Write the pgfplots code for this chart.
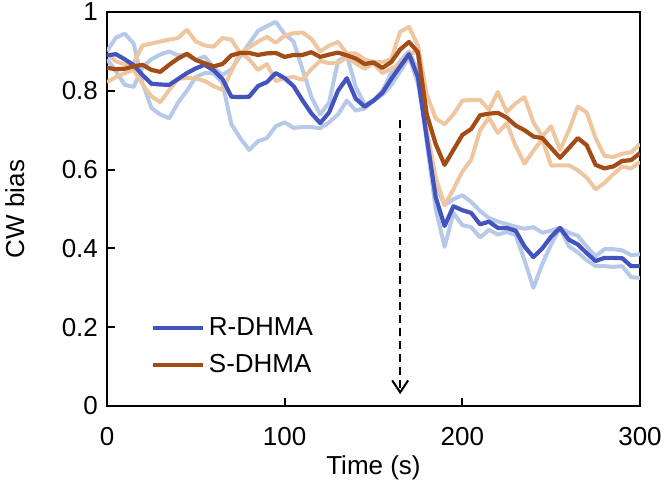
\documentclass[border=0pt]{standalone}
\usepackage{fontspec}
\setmainfont{Liberation Sans}
\usepackage{pgfplots}
\usepackage{pgfplotstable}
\pgfplotsset{compat=1.18}
\usetikzlibrary{arrows.meta}
\definecolor{rdark}{RGB}{68,84,190}
\definecolor{rlight}{RGB}{182,201,233}
\definecolor{sdark}{RGB}{163,76,22}
\definecolor{slight}{RGB}{238,198,160}

\pgfplotstableread{
t rm r1 r2
0 0.890 0.900 0.880
5 0.893 0.935 0.850
10 0.880 0.945 0.815
15 0.865 0.920 0.810
20 0.840 0.820 0.860
25 0.818 0.756 0.880
30 0.816 0.740 0.892
35 0.815 0.730 0.900
40 0.830 0.770 0.890
45 0.845 0.800 0.890
50 0.857 0.835 0.879
55 0.866 0.845 0.887
60 0.852 0.845 0.859
65 0.830 0.820 0.840
70 0.785 0.715 0.855
75 0.784 0.680 0.888
80 0.785 0.650 0.920
85 0.812 0.672 0.952
90 0.822 0.680 0.964
95 0.845 0.710 0.975
100 0.832 0.720 0.944
105 0.812 0.706 0.925
110 0.776 0.708 0.855
115 0.743 0.708 0.785
120 0.718 0.705 0.740
125 0.745 0.720 0.770
130 0.800 0.740 0.875
135 0.832 0.775 0.890
140 0.780 0.750 0.810
145 0.760 0.755 0.765
150 0.775 0.775 0.775
155 0.795 0.800 0.790
160 0.830 0.845 0.815
165 0.862 0.875 0.849
170 0.893 0.900 0.886
175 0.835 0.850 0.820
180 0.680 0.670 0.690
185 0.530 0.500 0.560
190 0.457 0.404 0.510
195 0.507 0.490 0.525
200 0.497 0.459 0.535
205 0.490 0.454 0.518
210 0.461 0.428 0.495
215 0.468 0.447 0.477
220 0.452 0.435 0.468
225 0.452 0.442 0.462
230 0.445 0.434 0.455
235 0.405 0.370 0.450
240 0.378 0.300 0.454
245 0.400 0.360 0.440
250 0.430 0.410 0.445
255 0.452 0.452 0.452
260 0.422 0.405 0.440
265 0.410 0.390 0.432
270 0.388 0.370 0.405
275 0.368 0.355 0.380
280 0.376 0.355 0.398
285 0.376 0.353 0.398
290 0.375 0.355 0.395
295 0.355 0.327 0.383
300 0.355 0.325 0.385
}\Rdata

\pgfplotstableread{
t sm s1 s2
0 0.858 0.894 0.822
5 0.855 0.875 0.835
10 0.856 0.867 0.845
15 0.862 0.871 0.853
20 0.866 0.915 0.817
25 0.853 0.920 0.786
30 0.848 0.925 0.771
35 0.866 0.930 0.802
40 0.882 0.934 0.830
45 0.894 0.955 0.833
50 0.878 0.925 0.831
55 0.870 0.915 0.825
60 0.862 0.912 0.812
65 0.868 0.934 0.802
70 0.890 0.930 0.850
75 0.896 0.895 0.897
80 0.896 0.910 0.880
85 0.891 0.925 0.853
90 0.895 0.937 0.868
95 0.896 0.922 0.825
100 0.886 0.940 0.832
105 0.891 0.946 0.835
110 0.891 0.948 0.828
115 0.898 0.932 0.855
120 0.886 0.900 0.876
125 0.892 0.915 0.870
130 0.897 0.924 0.870
135 0.890 0.895 0.885
140 0.882 0.895 0.870
145 0.868 0.880 0.856
150 0.872 0.873 0.870
155 0.858 0.873 0.845
160 0.873 0.880 0.856
165 0.905 0.950 0.870
170 0.924 0.962 0.896
175 0.898 0.915 0.896
180 0.740 0.790 0.700
185 0.665 0.730 0.580
190 0.612 0.715 0.510
195 0.650 0.740 0.550
200 0.688 0.775 0.595
205 0.703 0.777 0.625
210 0.738 0.777 0.700
215 0.742 0.752 0.732
220 0.744 0.797 0.693
225 0.732 0.746 0.718
230 0.712 0.768 0.660
235 0.700 0.784 0.615
240 0.684 0.720 0.648
245 0.680 0.684 0.677
250 0.655 0.710 0.610
255 0.630 0.650 0.611
260 0.655 0.700 0.611
265 0.680 0.760 0.598
270 0.662 0.745 0.580
275 0.612 0.680 0.550
280 0.603 0.635 0.566
285 0.608 0.632 0.588
290 0.622 0.640 0.608
295 0.624 0.644 0.603
300 0.642 0.665 0.620
}\Sdata

\begin{document}
\fontsize{13}{15.6}\selectfont
\begin{tikzpicture}
\begin{axis}[
  at={(0,0)}, anchor=south west,
  scale only axis, width=266.5pt, height=197pt,
  xmin=0, xmax=300, ymin=0, ymax=1,
  xtick={0,100,200,300}, xticklabels={0,100,200,300},
  ytick={0,0.2,0.4,0.6,0.8,1}, yticklabels={0,0.2,0.4,0.6,0.8,1},
  tick align=inside, tick pos=left, major tick length=4pt,
  axis line style={line width=1pt, black},
  major tick style={line width=1pt, black},
  tick label style={font=\fontsize{13}{15.6}\selectfont},
  xticklabel style={yshift=-6pt},
  xlabel={Time (s)}, ylabel={CW bias},
  label style={font=\fontsize{13}{15.6}\selectfont},
  xlabel style={at={(axis description cs:0.5,-0.157)}, anchor=center},
  ylabel style={at={(axis description cs:-0.173,0.5)}, anchor=center},
  legend style={at={(axis description cs:0.07,0.15)}, anchor=west, draw=none, fill=none,
    font=\fontsize{13}{15.6}\selectfont, row sep=3.5pt},
  legend cell align=left,
  legend image code/.code={\draw[#1] (0pt,0pt) -- (25pt,0pt);},
  every axis plot/.append style={line join=round},
]
\addplot[rlight, line width=2pt, forget plot] table[x=t, y=r1] {\Rdata};
\addplot[rlight, line width=2pt, forget plot] table[x=t, y=r2] {\Rdata};
\addplot[slight, line width=2pt, forget plot] table[x=t, y=s1] {\Sdata};
\addplot[slight, line width=2pt, forget plot] table[x=t, y=s2] {\Sdata};
\addplot[rdark, line width=2.1pt] table[x=t, y=rm] {\Rdata};
\addlegendentry{R-DHMA}
\addplot[sdark, line width=2.1pt] table[x=t, y=sm] {\Sdata};
\addlegendentry{S-DHMA}
\addplot[black, line width=1pt, dash pattern=on 4pt off 2.5pt,
  -{Straight Barb[length=6pt, width=8pt]}, forget plot]
  coordinates {(165,0.725) (165,0.03)};
\end{axis}
\pgfresetboundingbox
\useasboundingbox (-53.5pt,-47pt) rectangle (278.5pt,203pt);
\end{tikzpicture}
\end{document}
